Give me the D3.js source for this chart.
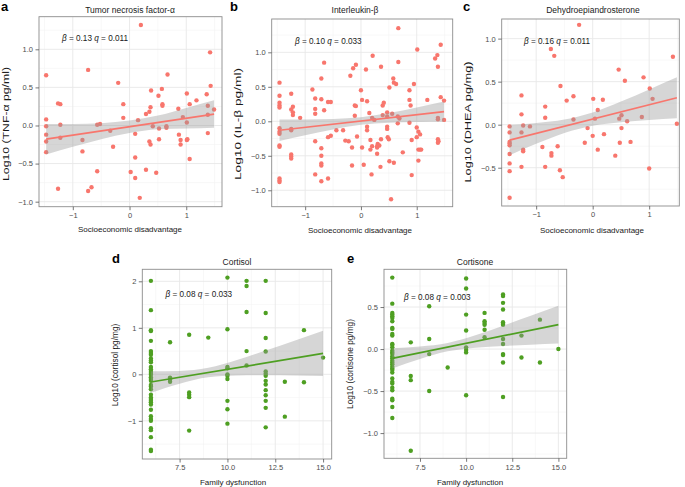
<!DOCTYPE html>
<html><head><meta charset="utf-8">
<script src="https://cdn.jsdelivr.net/npm/d3@7"></script>
<style>body{margin:0;background:#fff}svg{display:block;font-family:"Liberation Sans",Arial,sans-serif}</style>
</head><body><svg id="chart" width="685" height="487"></svg>
<script>
// ---------------- data ----------------
const tnfPoints = [[-1.47,0.66],[-1.47,0.08],[-1.47,-0.01],[-1.47,-0.12],[-1.47,-0.21],[-1.47,-0.35],[-1.26,0.29],[-1.22,0.28],[-1.22,0.01],[-1.22,-0.16],[-1.26,-0.83],[-0.83,-0.19],[-0.83,-0.34],[-0.73,0.73],[-0.73,-0.86],[-0.67,-0.81],[-0.57,-0.60],[-0.57,0.01],[-0.52,0.02],[-0.34,-0.07],[-0.29,-0.28],[-0.20,0.56],[-0.11,0.28],[-0.11,0.10],[0.02,-0.61],[0.10,-0.69],[0.10,-0.42],[0.10,-0.11],[0.15,0.07],[0.18,-0.95],[0.20,1.32],[0.29,0.15],[0.29,-0.58],[0.35,0.18],[0.35,-0.21],[0.37,-0.25],[0.37,0.24],[0.38,0.46],[0.41,-0.01],[0.47,-0.62],[0.51,0.39],[0.52,-0.04],[0.52,-0.18],[0.57,0.48],[0.58,0.28],[0.58,0.26],[0.67,0.67],[0.65,-0.03],[0.65,-0.01],[0.86,0.22],[0.87,-0.12],[0.90,-0.19],[0.90,-0.25],[0.94,0.11],[1.01,0.42],[1.01,-0.19],[1.01,0.04],[1.02,-0.18],[1.06,0.28],[1.06,-0.44],[1.18,0.33],[1.36,0.41],[1.38,0.26],[1.38,0.14],[1.38,-0.10],[1.42,0.96],[1.43,0.52],[1.49,0.21]];
const ilPoints = [[-1.46,0.56],[-1.46,0.37],[-1.46,0.27],[-1.46,0.23],[-1.46,0.20],[-1.46,-0.10],[-1.46,-0.15],[-1.46,-0.18],[-1.46,-0.35],[-1.46,-0.37],[-1.46,-0.83],[-1.46,-0.86],[-1.46,-0.88],[-1.25,0.40],[-1.25,0.17],[-1.25,-0.11],[-1.25,-0.13],[-1.25,-0.48],[-1.25,-0.51],[-1.25,-0.54],[-1.22,0.21],[-1.22,0.13],[-1.22,0.09],[-1.09,0.05],[-0.87,0.46],[-0.82,0.33],[-0.82,0.18],[-0.82,0.11],[-0.82,-0.29],[-0.82,-0.77],[-0.71,0.62],[-0.71,0.32],[-0.71,-0.39],[-0.71,-0.50],[-0.71,-0.61],[-0.71,-0.64],[-0.71,-0.87],[-0.66,0.85],[-0.66,0.16],[-0.59,0.28],[-0.59,-0.23],[-0.59,-0.83],[-0.54,0.28],[-0.54,-0.21],[-0.44,-0.13],[-0.32,-0.13],[-0.28,-0.28],[-0.22,-0.29],[-0.19,0.66],[-0.16,-0.38],[-0.16,-0.64],[-0.14,0.77],[-0.11,0.23],[-0.11,0.08],[-0.09,0.82],[-0.09,0.22],[-0.07,-0.22],[0.0,0.45],[0.02,0.31],[0.02,-0.38],[0.05,-0.63],[0.09,0.75],[0.11,0.29],[0.11,-0.08],[0.11,-0.13],[0.15,0.12],[0.17,-0.27],[0.17,-0.41],[0.19,-0.77],[0.20,0.05],[0.20,-0.36],[0.21,0.95],[0.24,0.02],[0.29,-0.36],[0.29,-0.38],[0.29,-0.47],[0.30,-0.33],[0.33,-0.35],[0.35,-0.66],[0.36,0.79],[0.36,-0.26],[0.39,0.23],[0.39,0.09],[0.41,0.27],[0.47,0.13],[0.47,-0.08],[0.47,0.07],[0.47,-0.11],[0.48,-0.23],[0.50,-0.26],[0.51,0.49],[0.51,-0.58],[0.54,-1.13],[0.56,0.11],[0.58,0.62],[0.59,0.56],[0.59,-0.60],[0.63,0.54],[0.66,-0.03],[0.66,0.07],[0.67,1.35],[0.67,0.86],[0.69,0.04],[0.75,-0.45],[0.87,0.45],[0.87,0.31],[0.87,-0.02],[0.89,0.23],[0.91,-0.78],[0.91,-0.27],[0.95,0.54],[1.00,-0.09],[1.00,-0.23],[1.01,1.04],[1.03,-0.15],[1.03,-0.41],[1.03,-0.57],[1.06,-0.19],[1.06,-0.41],[1.08,-0.41],[1.19,0.31],[1.33,0.91],[1.37,0.96],[1.38,0.79],[1.38,0.05],[1.38,0.03],[1.38,-0.26],[1.38,-0.31],[1.39,-0.29],[1.43,1.11],[1.43,0.35],[1.49,0.30],[1.49,0.02]];
const dheaPoints = [[-1.47,-0.02],[-1.47,-0.09],[-1.47,-0.20],[-1.47,-0.22],[-1.47,-0.24],[-1.47,-0.34],[-1.47,-0.45],[-1.47,-0.54],[-1.47,-0.85],[-1.26,0.34],[-1.26,0.12],[-1.26,-0.09],[-1.26,-0.49],[-1.23,-0.01],[-1.23,-0.29],[-1.23,-0.31],[-1.11,-0.02],[-0.89,-0.26],[-0.84,0.21],[-0.84,0.08],[-0.84,-0.49],[-0.74,0.88],[-0.73,-0.33],[-0.73,-0.36],[-0.68,0.80],[-0.62,-0.25],[-0.57,0.45],[-0.58,-0.53],[-0.53,-0.61],[-0.46,0.28],[-0.24,1.16],[-0.34,0.33],[-0.34,0.06],[-0.14,-0.21],[-0.09,-0.04],[0.0,-0.13],[0.01,0.30],[0.04,0.07],[0.09,0.17],[0.09,-0.29],[0.18,0.29],[0.20,-0.11],[0.40,-0.36],[0.46,0.64],[0.47,0.07],[0.48,-0.21],[0.51,0.11],[0.51,-0.04],[0.57,0.51],[0.61,0.04],[0.67,-0.20],[0.87,0.09],[0.90,0.55],[1.00,-0.51],[1.01,0.42],[1.06,0.30],[1.42,0.79],[1.49,0.01]];
const cortisolPoints = [[6,2.01],[6,1.38],[6,0.95],[6,0.93],[6,0.72],[6,0.50],[6,0.46],[6,0.42],[6,0.34],[6,0.30],[6,0.26],[6,0.16],[6,0.11],[6,0.07],[6,0.03],[6,-0.01],[6,-0.06],[6,-0.10],[6,-0.14],[6,-0.23],[6,-0.26],[6,-0.32],[6,-0.44],[6,-0.50],[6,-0.53],[6,-0.57],[6,-0.60],[6,-0.65],[6,-0.76],[6,-0.90],[6,-0.96],[6,-1.00],[6,-1.16],[6,-1.20],[6,-1.35],[6,-1.62],[6,-1.65],[7,0.69],[7,-0.07],[7,-0.11],[7,-0.16],[8,0.85],[8,-0.39],[8,-0.44],[8,-0.49],[8,-1.21],[9,0.79],[10,2.08],[10,0.97],[10,0.16],[10,0.13],[10,0.0],[10,-0.03],[10,-0.10],[10,-0.57],[10,-0.75],[10,-1.06],[11,2.01],[11,1.90],[11,1.34],[11,0.50],[11,0.19],[12,2.01],[12,1.32],[12,0.78],[12,0.49],[12,0.06],[12,0.01],[12,-0.03],[12,-0.14],[12,-0.22],[12,-0.34],[12,-0.45],[12,-0.57],[12,-0.72],[12,-1.14],[13,-0.16],[13,-0.91],[14,0.95],[14,-0.17],[15,0.36]];
const cortisonePoints = [[6,0.85],[6,0.54],[6,0.43],[6,0.41],[6,0.39],[6,0.37],[6,0.33],[6,0.25],[6,0.24],[6,0.18],[6,0.16],[6,0.06],[6,0.05],[6,0.02],[6,-0.02],[6,-0.04],[6,-0.06],[6,-0.09],[6,-0.11],[6,-0.14],[6,-0.16],[6,-0.18],[6,-0.21],[6,-0.23],[6,-0.25],[6,-0.28],[6,-0.35],[6,-0.39],[6,-0.41],[6,-0.46],[6,-0.49],[6,-0.59],[6,-0.61],[6,-0.69],[6,-0.82],[7,0.08],[7,-0.32],[7,-0.37],[7,-1.21],[8,0.51],[8,0.12],[8,-0.06],[8,-0.50],[9,-0.22],[10,0.84],[10,0.72],[10,0.41],[10,0.22],[10,0.02],[10,-0.01],[10,-0.04],[10,-0.55],[11,0.43],[11,0.33],[11,0.31],[11,0.29],[11,0.23],[11,0.14],[12,0.65],[12,0.63],[12,0.55],[12,0.47],[12,0.32],[12,0.30],[12,0.29],[12,0.12],[12,0.06],[12,-0.06],[12,-0.07],[12,-0.16],[12,-0.57],[13,0.16],[13,-0.10],[14,0.35],[14,-0.16],[15,0.0]];

// fitted lines (end points) and confidence bands
const tnfFitX = [-1.47, 1.49], tnfFitY = [-0.179, 0.149];
const tnfBandX = [-1.47, -1, -0.5, 0, 0.5, 1, 1.49];
const tnfBandLo = [-0.38, -0.28, -0.18, -0.10, -0.05, -0.04, -0.03];
const tnfBandHi = [0.02, 0.02, 0.03, 0.065, 0.13, 0.23, 0.33];

const ilFitX = [-1.46, 1.49], ilFitY = [-0.130, 0.140];
const ilBandX = [-1.46, -1, -0.5, 0, 0.5, 1, 1.49];
const ilBandLo = [-0.285, -0.203, -0.118, -0.051, -0.021, -0.011, -0.008];
const ilBandHi = [0.025, 0.027, 0.034, 0.059, 0.119, 0.201, 0.288];

const dheaFitX = [-1.47, 1.49], dheaFitY = [-0.180, 0.313];
const dheaBandX = [-1.47, -1, -0.5, 0, 0.5, 1, 1.49];
const dheaBandLo = [-0.355, -0.223, -0.096, -0.012, 0.028, 0.055, 0.076];
const dheaBandHi = [-0.005, 0.019, 0.06, 0.142, 0.268, 0.409, 0.55];

const cortisolFitX = [6, 15], cortisolFitY = [-0.165, 0.450];
const cortisolBandX = [6, 7.5, 9, 10.5, 12, 13.5, 15];
const cortisolBandLo = [-0.395, -0.20, -0.062, -0.025, -0.021, -0.027, -0.035];
const cortisolBandHi = [0.065, 0.074, 0.142, 0.309, 0.511, 0.721, 0.935];

const cortisoneFitX = [6, 15], cortisoneFitY = [-0.110, 0.290];
const cortisoneBandX = [6, 7.5, 9, 10.5, 12, 13.5, 15];
const cortisoneBandLo = [-0.23, -0.117, -0.027, 0.016, 0.036, 0.051, 0.065];
const cortisoneBandHi = [0.01, 0.031, 0.073, 0.164, 0.278, 0.395, 0.515];

// tick values
const sesTicks = [-1, 0, 1];
const sesMinor = [-1.5, -0.5, 0.5, 1.5];
const famTicks = [7.5, 10, 12.5, 15];
const famMinor = [6.25, 8.75, 11.25, 13.75];
const tnfYTicks = [-1, -0.5, 0, 0.5, 1];
const tnfYMinor = [-0.75, -0.25, 0.25, 0.75, 1.25];
const ilYTicks = [-1, -0.5, 0, 0.5, 1];
const ilYMinor = [-0.75, -0.25, 0.25, 0.75, 1.25];
const dheaYTicks = [-0.5, 0, 0.5, 1];
const dheaYMinor = [-0.75, -0.25, 0.25, 0.75];
const cortisolYTicks = [-1, 0, 1, 2];
const cortisolYMinor = [-1.5, -0.5, 0.5, 1.5];
const cortisoneYTicks = [-1, -0.5, 0, 0.5];
const cortisoneYMinor = [-1.25, -0.75, -0.25, 0.25, 0.75];

// ---------------- layout / style ----------------
const RED = "#F8766D", GREEN = "#4E9F22";
const f1 = d3.format(".1f"), fd = d3.format("d");

const panels = [
  {letter:"a", title:"Tumor necrosis factor-\u03b1", ylab:"Log10 (TNF-\u03b1 pg/ml)", xlab:"Socioeconomic disadvantage",
   beta:"0.13", q:"0.011", color:RED, pts:tnfPoints, fitX:tnfFitX, fitY:tnfFitY, bx:tnfBandX, blo:tnfBandLo, bhi:tnfBandHi,
   L:39, R:222, T:16.7, B:206.7, xd:[-1.596,1.63], yd:[-1.066,1.428],
   xt:sesTicks, xm:sesMinor, yt:tnfYTicks, ym:tnfYMinor, xf:fd, yf:f1,
   letterXY:[1,10.5], titleXY:[130,12.5], annXY:[62,41], ylabXY:[8.5,124], ylabLen:114, xlabXY:[130,232]},
  {letter:"b", title:"Interleukin-\u03b2", ylab:"Log10 (IL-\u03b2 pg/ml)", xlab:"Socioeconomic disadvantage",
   beta:"0.10", q:"0.033", color:RED, pts:ilPoints, fitX:ilFitX, fitY:ilFitY, bx:ilBandX, blo:ilBandLo, bhi:ilBandHi,
   L:271.7, R:452.7, T:19, B:206.7, xd:[-1.60,1.645], yd:[-1.238,1.483],
   xt:sesTicks, xm:sesMinor, yt:ilYTicks, ym:ilYMinor, xf:fd, yf:f1,
   letterXY:[230,10.5], titleXY:[355,13], annXY:[295,44], ylabXY:[241,124], ylabLen:112, xlabXY:[360,233]},
  {letter:"c", title:"Dehydroepiandrosterone", ylab:"Log10 (DHEA pg/mg)", xlab:"Socioeconomic disadvantage",
   beta:"0.16", q:"0.011", color:RED, pts:dheaPoints, fitX:dheaFitX, fitY:dheaFitY, bx:dheaBandX, blo:dheaBandLo, bhi:dheaBandHi,
   L:501.7, R:679.3, T:19, B:206, xd:[-1.61,1.533], yd:[-0.945,1.228],
   xt:sesTicks, xm:sesMinor, yt:dheaYTicks, ym:dheaYMinor, xf:fd, yf:f1,
   letterXY:[463,10.5], titleXY:[593,12.5], annXY:[524,43.5], ylabXY:[471,122], ylabLen:121, xlabXY:[592,233]},
  {letter:"d", title:"Cortisol", ylab:"Log10 (cortisol pg/mg)", xlab:"Family dysfunction",
   beta:"0.08", q:"0.033", color:GREEN, pts:cortisolPoints, fitX:cortisolFitX, fitY:cortisolFitY, bx:cortisolBandX, blo:cortisolBandLo, bhi:cortisolBandHi,
   L:142.3, R:331.7, T:269.3, B:459, xd:[5.55,15.45], yd:[-1.82,2.258],
   xt:famTicks, xm:famMinor, yt:cortisolYTicks, ym:cortisolYMinor, xf:f1, yf:fd,
   letterXY:[112,263], titleXY:[237,265], annXY:[165.5,297], ylabXY:[117.5,365], ylabLen:null, xlabXY:[233,485]},
  {letter:"e", title:"Cortisone", ylab:"Log10 (cortisone pg/mg)", xlab:"Family dysfunction",
   beta:"0.08", q:"0.003", color:GREEN, pts:cortisonePoints, fitX:cortisoneFitX, fitY:cortisoneFitY, bx:cortisoneBandX, blo:cortisoneBandLo, bhi:cortisoneBandHi,
   L:384, R:566.7, T:269.3, B:458.3, xd:[5.55,15.45], yd:[-1.30,0.949],
   xt:famTicks, xm:famMinor, yt:cortisoneYTicks, ym:cortisoneYMinor, xf:f1, yf:f1,
   letterXY:[347,263], titleXY:[475,265], annXY:[404,300], ylabXY:[352.5,364], ylabLen:null, xlabXY:[470,485]}
];

const svg = d3.select("#chart");
svg.append("rect").attr("width",685).attr("height",487).attr("fill","#fff");

panels.forEach((p, i) => {
  const x = d3.scaleLinear().domain(p.xd).range([p.L, p.R]);
  const y = d3.scaleLinear().domain(p.yd).range([p.B, p.T]);
  const g = svg.append("g");
  const clipId = "clip" + i;
  svg.append("clipPath").attr("id", clipId).append("rect")
    .attr("x", p.L).attr("y", p.T).attr("width", p.R - p.L).attr("height", p.B - p.T);
  const pg = g.append("g").attr("clip-path", `url(#${clipId})`);

  // grid
  pg.selectAll(".gxm").data(p.xm).join("line").attr("x1", d => x(d)).attr("x2", d => x(d))
    .attr("y1", p.T).attr("y2", p.B).attr("stroke", "#F4F4F4").attr("stroke-width", 0.6);
  pg.selectAll(".gym").data(p.ym).join("line").attr("y1", d => y(d)).attr("y2", d => y(d))
    .attr("x1", p.L).attr("x2", p.R).attr("stroke", "#F4F4F4").attr("stroke-width", 0.6);
  pg.selectAll(".gx").data(p.xt).join("line").attr("x1", d => x(d)).attr("x2", d => x(d))
    .attr("y1", p.T).attr("y2", p.B).attr("stroke", "#E8E8E8").attr("stroke-width", 0.9);
  pg.selectAll(".gy").data(p.yt).join("line").attr("y1", d => y(d)).attr("y2", d => y(d))
    .attr("x1", p.L).attr("x2", p.R).attr("stroke", "#E8E8E8").attr("stroke-width", 0.9);

  // points
  pg.selectAll("circle").data(p.pts).join("circle")
    .attr("cx", d => x(d[0])).attr("cy", d => y(d[1])).attr("r", 2.2).attr("fill", p.color);

  // confidence band
  const band = p.bx.map((v, k) => [v, p.blo[k], p.bhi[k]]);
  pg.append("path").datum(band)
    .attr("d", d3.area().x(d => x(d[0])).y0(d => y(d[1])).y1(d => y(d[2])).curve(d3.curveMonotoneX))
    .attr("fill", "#999999").attr("fill-opacity", 0.4);

  // fit line
  pg.append("path").datum(p.fitX.map((v, k) => [v, p.fitY[k]]))
    .attr("d", d3.line().x(d => x(d[0])).y(d => y(d[1])))
    .attr("stroke", p.color).attr("stroke-width", 1.7).attr("fill", "none");

  // border
  g.append("rect").attr("x", p.L).attr("y", p.T).attr("width", p.R - p.L).attr("height", p.B - p.T)
    .attr("fill", "none").attr("stroke", "#8C8C8C").attr("stroke-width", 0.9);

  // axes
  const ax = g.append("g").attr("transform", `translate(0,${p.B})`)
    .call(d3.axisBottom(x).tickValues(p.xt).tickFormat(p.xf).tickSize(3.5).tickPadding(2.5));
  const ay = g.append("g").attr("transform", `translate(${p.L},0)`)
    .call(d3.axisLeft(y).tickValues(p.yt).tickFormat(p.yf).tickSize(3.5).tickPadding(2.5));
  [ax, ay].forEach(a => {
    a.select(".domain").remove();
    a.selectAll("line").attr("stroke", "#555").attr("stroke-width", 0.8);
    a.selectAll("text").attr("fill", "#4D4D4D").style("font-size", "7.5px")
      .style("font-family", '"Liberation Sans", Arial, sans-serif');
  });

  // panel letter
  g.append("text").attr("x", p.letterXY[0]).attr("y", p.letterXY[1]).text(p.letter)
    .style("font-size", "13px").style("font-weight", "bold").attr("fill", "#000");
  // title
  g.append("text").attr("x", p.titleXY[0]).attr("y", p.titleXY[1]).attr("text-anchor", "middle")
    .text(p.title).style("font-size", "8.5px").attr("fill", "#1a1a1a");
  // annotation
  const ann = g.append("text").attr("x", p.annXY[0]).attr("y", p.annXY[1])
    .style("font-size", "8.2px").attr("fill", "#1a1a1a");
  ann.append("tspan").text("\u03b2").style("font-style", "italic");
  ann.append("tspan").text(" = " + p.beta + " ");
  ann.append("tspan").text("q").style("font-style", "italic");
  ann.append("tspan").text(" = " + p.q);
  // x label
  g.append("text").attr("x", p.xlabXY[0]).attr("y", p.xlabXY[1]).attr("text-anchor", "middle")
    .text(p.xlab).style("font-size", "8px").attr("fill", "#1a1a1a");
  // y label
  const yl = g.append("text").attr("transform", `translate(${p.ylabXY[0]},${p.ylabXY[1]}) rotate(-90)`)
    .attr("text-anchor", "middle").text(p.ylab).style("font-size", "8.3px").attr("fill", "#1a1a1a");
  if (p.ylabLen) yl.attr("textLength", p.ylabLen).attr("lengthAdjust", "spacingAndGlyphs");
});
</script>
</body></html>
